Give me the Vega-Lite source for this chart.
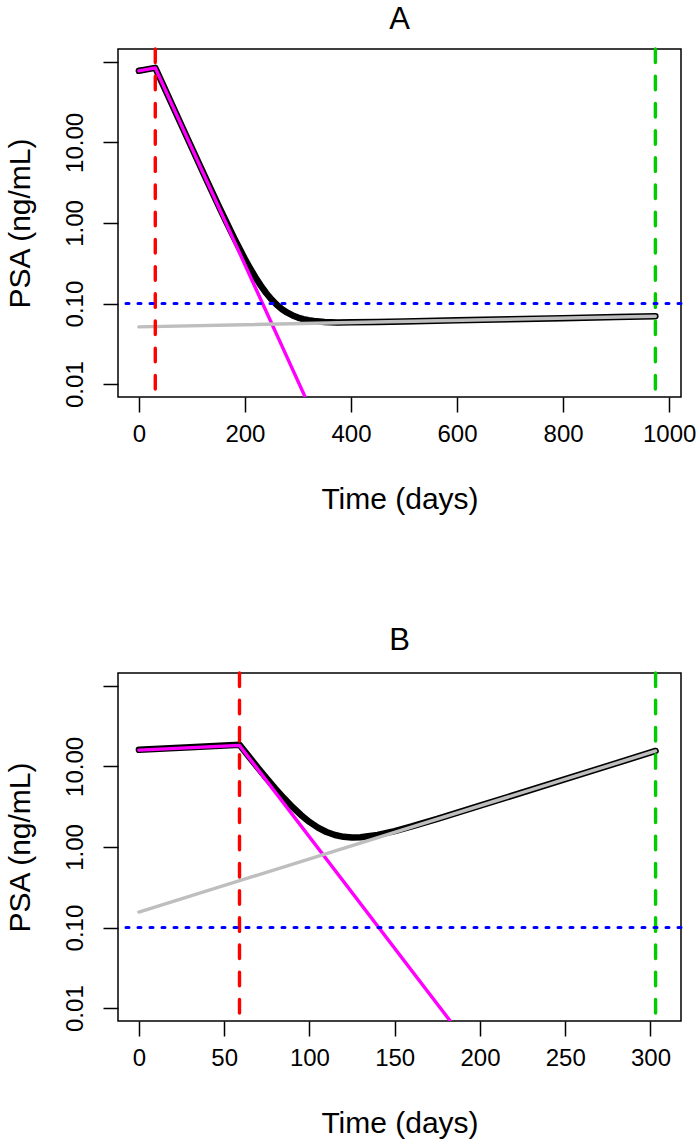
{
  "$schema": "https://vega.github.io/schema/vega-lite/v6.json",
  "padding": {"left": 4, "top": 3, "right": 0, "bottom": 0},
  "background": "white",
  "spacing": 109,
  "datasets": {
    "A_black": [
      {"t": 0, "v": 77.45}, {"t": 10, "v": 79.6}, {"t": 20, "v": 81.83}, {"t": 31, "v": 84.35},
      {"t": 50, "v": 44.84}, {"t": 75, "v": 19.53}, {"t": 100, "v": 8.53}, {"t": 125, "v": 3.741},
      {"t": 150, "v": 1.659}, {"t": 165, "v": 1.029}, {"t": 180, "v": 0.6455}, {"t": 190, "v": 0.478},
      {"t": 200, "v": 0.3582}, {"t": 210, "v": 0.2724}, {"t": 220, "v": 0.2109}, {"t": 230, "v": 0.1669},
      {"t": 240, "v": 0.1353}, {"t": 250, "v": 0.1128}, {"t": 260, "v": 0.0967}, {"t": 270, "v": 0.0851},
      {"t": 280, "v": 0.077}, {"t": 290, "v": 0.0712}, {"t": 300, "v": 0.067}, {"t": 310, "v": 0.0641},
      {"t": 320, "v": 0.0621}, {"t": 330, "v": 0.0606}, {"t": 350, "v": 0.059}, {"t": 375, "v": 0.0583},
      {"t": 400, "v": 0.0585}, {"t": 450, "v": 0.059}, {"t": 500, "v": 0.06}, {"t": 600, "v": 0.0619},
      {"t": 700, "v": 0.0638}, {"t": 800, "v": 0.0658}, {"t": 900, "v": 0.0679}, {"t": 974, "v": 0.0695}
    ],
    "A_magenta": [{"t": 0, "v": 77.4}, {"t": 31, "v": 84.3}, {"t": 350, "v": 0.00206}],
    "A_gray": [{"t": 0, "v": 0.0513}, {"t": 974, "v": 0.0695}],
    "A_red": [{"t": 31}],
    "A_green": [{"t": 974}],
    "B_black": [
      {"t": 0, "v": 16.12}, {"t": 30, "v": 17.33}, {"t": 59, "v": 18.62}, {"t": 65, "v": 12.86},
      {"t": 70, "v": 9.5}, {"t": 75, "v": 7.07}, {"t": 80, "v": 5.31}, {"t": 85, "v": 4.045},
      {"t": 90, "v": 3.14}, {"t": 95, "v": 2.498}, {"t": 100, "v": 2.048}, {"t": 105, "v": 1.739},
      {"t": 110, "v": 1.535}, {"t": 115, "v": 1.407}, {"t": 120, "v": 1.3375}, {"t": 125, "v": 1.312},
      {"t": 130, "v": 1.3196}, {"t": 140, "v": 1.411}, {"t": 150, "v": 1.576}, {"t": 160, "v": 1.799},
      {"t": 175, "v": 2.235}, {"t": 200, "v": 3.253}, {"t": 250, "v": 6.95}, {"t": 303, "v": 15.56}
    ],
    "B_magenta": [{"t": 0, "v": 15.96}, {"t": 59, "v": 18.24}, {"t": 200, "v": 0.00228}],
    "B_gray": [{"t": 0, "v": 0.1556}, {"t": 303, "v": 15.56}],
    "B_red": [{"t": 59}],
    "B_green": [{"t": 303}],
    "thr": [{"v": 0.1}]
  },
  "vconcat": [
    {
      "width": 563,
      "height": 348,
      "title": {"text": "A", "offset": 11},
      "layer": [
        {
          "data": {"name": "A_black"},
          "mark": {"type": "line", "color": "black", "strokeWidth": 6.5, "clip": true, "strokeCap": "round", "strokeJoin": "round"},
          "encoding": {
            "x": {"field": "t", "type": "quantitative", "scale": {"domain": [-39.3, 1022.3], "nice": false, "zero": false},
                  "axis": {"values": [0, 200, 400, 600, 800, 1000], "format": "d", "title": "Time (days)"}},
            "y": {"field": "v", "type": "quantitative", "scale": {"type": "log", "domain": [0.00692, 144.5], "nice": false},
                  "axis": {"values": [0.01, 0.1, 1, 10, 100], "title": "PSA (ng/mL)", "labelExpr": "datum.value >= 100 ? '' : format(datum.value, '.2f')"}}
          }
        },
        {
          "data": {"name": "A_magenta"},
          "mark": {"type": "line", "color": "#FF00FF", "strokeWidth": 3.4, "clip": true, "strokeCap": "round", "strokeJoin": "round"},
          "encoding": {
            "x": {"field": "t", "type": "quantitative"},
            "y": {"field": "v", "type": "quantitative"}
          }
        },
        {
          "data": {"name": "A_gray"},
          "mark": {"type": "line", "color": "#BEBEBE", "strokeWidth": 3.4, "clip": true, "strokeCap": "round"},
          "encoding": {
            "x": {"field": "t", "type": "quantitative"},
            "y": {"field": "v", "type": "quantitative"}
          }
        },
        {
          "data": {"name": "A_red"},
          "mark": {"type": "rule", "color": "#FF0000", "strokeWidth": 3.4, "strokeDash": [13.6, 13.6], "strokeCap": "round"},
          "encoding": {"x": {"field": "t", "type": "quantitative"}}
        },
        {
          "data": {"name": "A_green"},
          "mark": {"type": "rule", "color": "#00CC00", "strokeWidth": 3.4, "strokeDash": [13.6, 13.6], "strokeCap": "round"},
          "encoding": {"x": {"field": "t", "type": "quantitative"}}
        },
        {
          "data": {"name": "thr"},
          "mark": {"type": "rule", "color": "#0000FF", "strokeWidth": 3, "strokeDash": [3, 9], "strokeCap": "round"},
          "encoding": {"y": {"field": "v", "type": "quantitative"}}
        }
      ]
    },
    {
      "width": 563,
      "height": 348,
      "title": {"text": "B", "offset": 14},
      "layer": [
        {
          "data": {"name": "B_black"},
          "mark": {"type": "line", "color": "black", "strokeWidth": 6.5, "clip": true, "strokeCap": "round", "strokeJoin": "round"},
          "encoding": {
            "x": {"field": "t", "type": "quantitative", "scale": {"domain": [-12.25, 317.9], "nice": false, "zero": false},
                  "axis": {"values": [0, 50, 100, 150, 200, 250, 300], "format": "d", "title": "Time (days)"}},
            "y": {"field": "v", "type": "quantitative", "scale": {"type": "log", "domain": [0.00692, 144.5], "nice": false},
                  "axis": {"values": [0.01, 0.1, 1, 10, 100], "title": "PSA (ng/mL)", "labelExpr": "datum.value >= 100 ? '' : format(datum.value, '.2f')"}}
          }
        },
        {
          "data": {"name": "B_magenta"},
          "mark": {"type": "line", "color": "#FF00FF", "strokeWidth": 3.4, "clip": true, "strokeCap": "round", "strokeJoin": "round"},
          "encoding": {
            "x": {"field": "t", "type": "quantitative"},
            "y": {"field": "v", "type": "quantitative"}
          }
        },
        {
          "data": {"name": "B_gray"},
          "mark": {"type": "line", "color": "#BEBEBE", "strokeWidth": 3.4, "clip": true, "strokeCap": "round"},
          "encoding": {
            "x": {"field": "t", "type": "quantitative"},
            "y": {"field": "v", "type": "quantitative"}
          }
        },
        {
          "data": {"name": "B_red"},
          "mark": {"type": "rule", "color": "#FF0000", "strokeWidth": 3.4, "strokeDash": [13.6, 13.6], "strokeCap": "round"},
          "encoding": {"x": {"field": "t", "type": "quantitative"}}
        },
        {
          "data": {"name": "B_green"},
          "mark": {"type": "rule", "color": "#00CC00", "strokeWidth": 3.4, "strokeDash": [13.6, 13.6], "strokeCap": "round"},
          "encoding": {"x": {"field": "t", "type": "quantitative"}}
        },
        {
          "data": {"name": "thr"},
          "mark": {"type": "rule", "color": "#0000FF", "strokeWidth": 3, "strokeDash": [3, 9], "strokeCap": "round"},
          "encoding": {"y": {"field": "v", "type": "quantitative"}}
        }
      ]
    }
  ],
  "config": {
    "view": {"stroke": "black", "strokeWidth": 1.5},
    "axis": {
      "domain": false, "grid": false,
      "tickColor": "black", "tickWidth": 1.5, "tickSize": 15,
      "labelColor": "black", "labelFont": "Liberation Sans", "labelFontSize": 24,
      "labelOverlap": false, "labelFlush": false,
      "titleFont": "Liberation Sans", "titleFontSize": 30, "titleFontWeight": "normal", "titleColor": "black"
    },
    "axisX": {"labelPadding": 10, "titlePadding": 38},
    "axisY": {"labelAngle": 270, "labelAlign": "center", "labelBaseline": "alphabetic", "labelPadding": 21, "titlePadding": 28},
    "title": {"font": "Liberation Sans", "fontSize": 31, "fontWeight": "normal", "color": "black", "anchor": "middle"}
  }
}
